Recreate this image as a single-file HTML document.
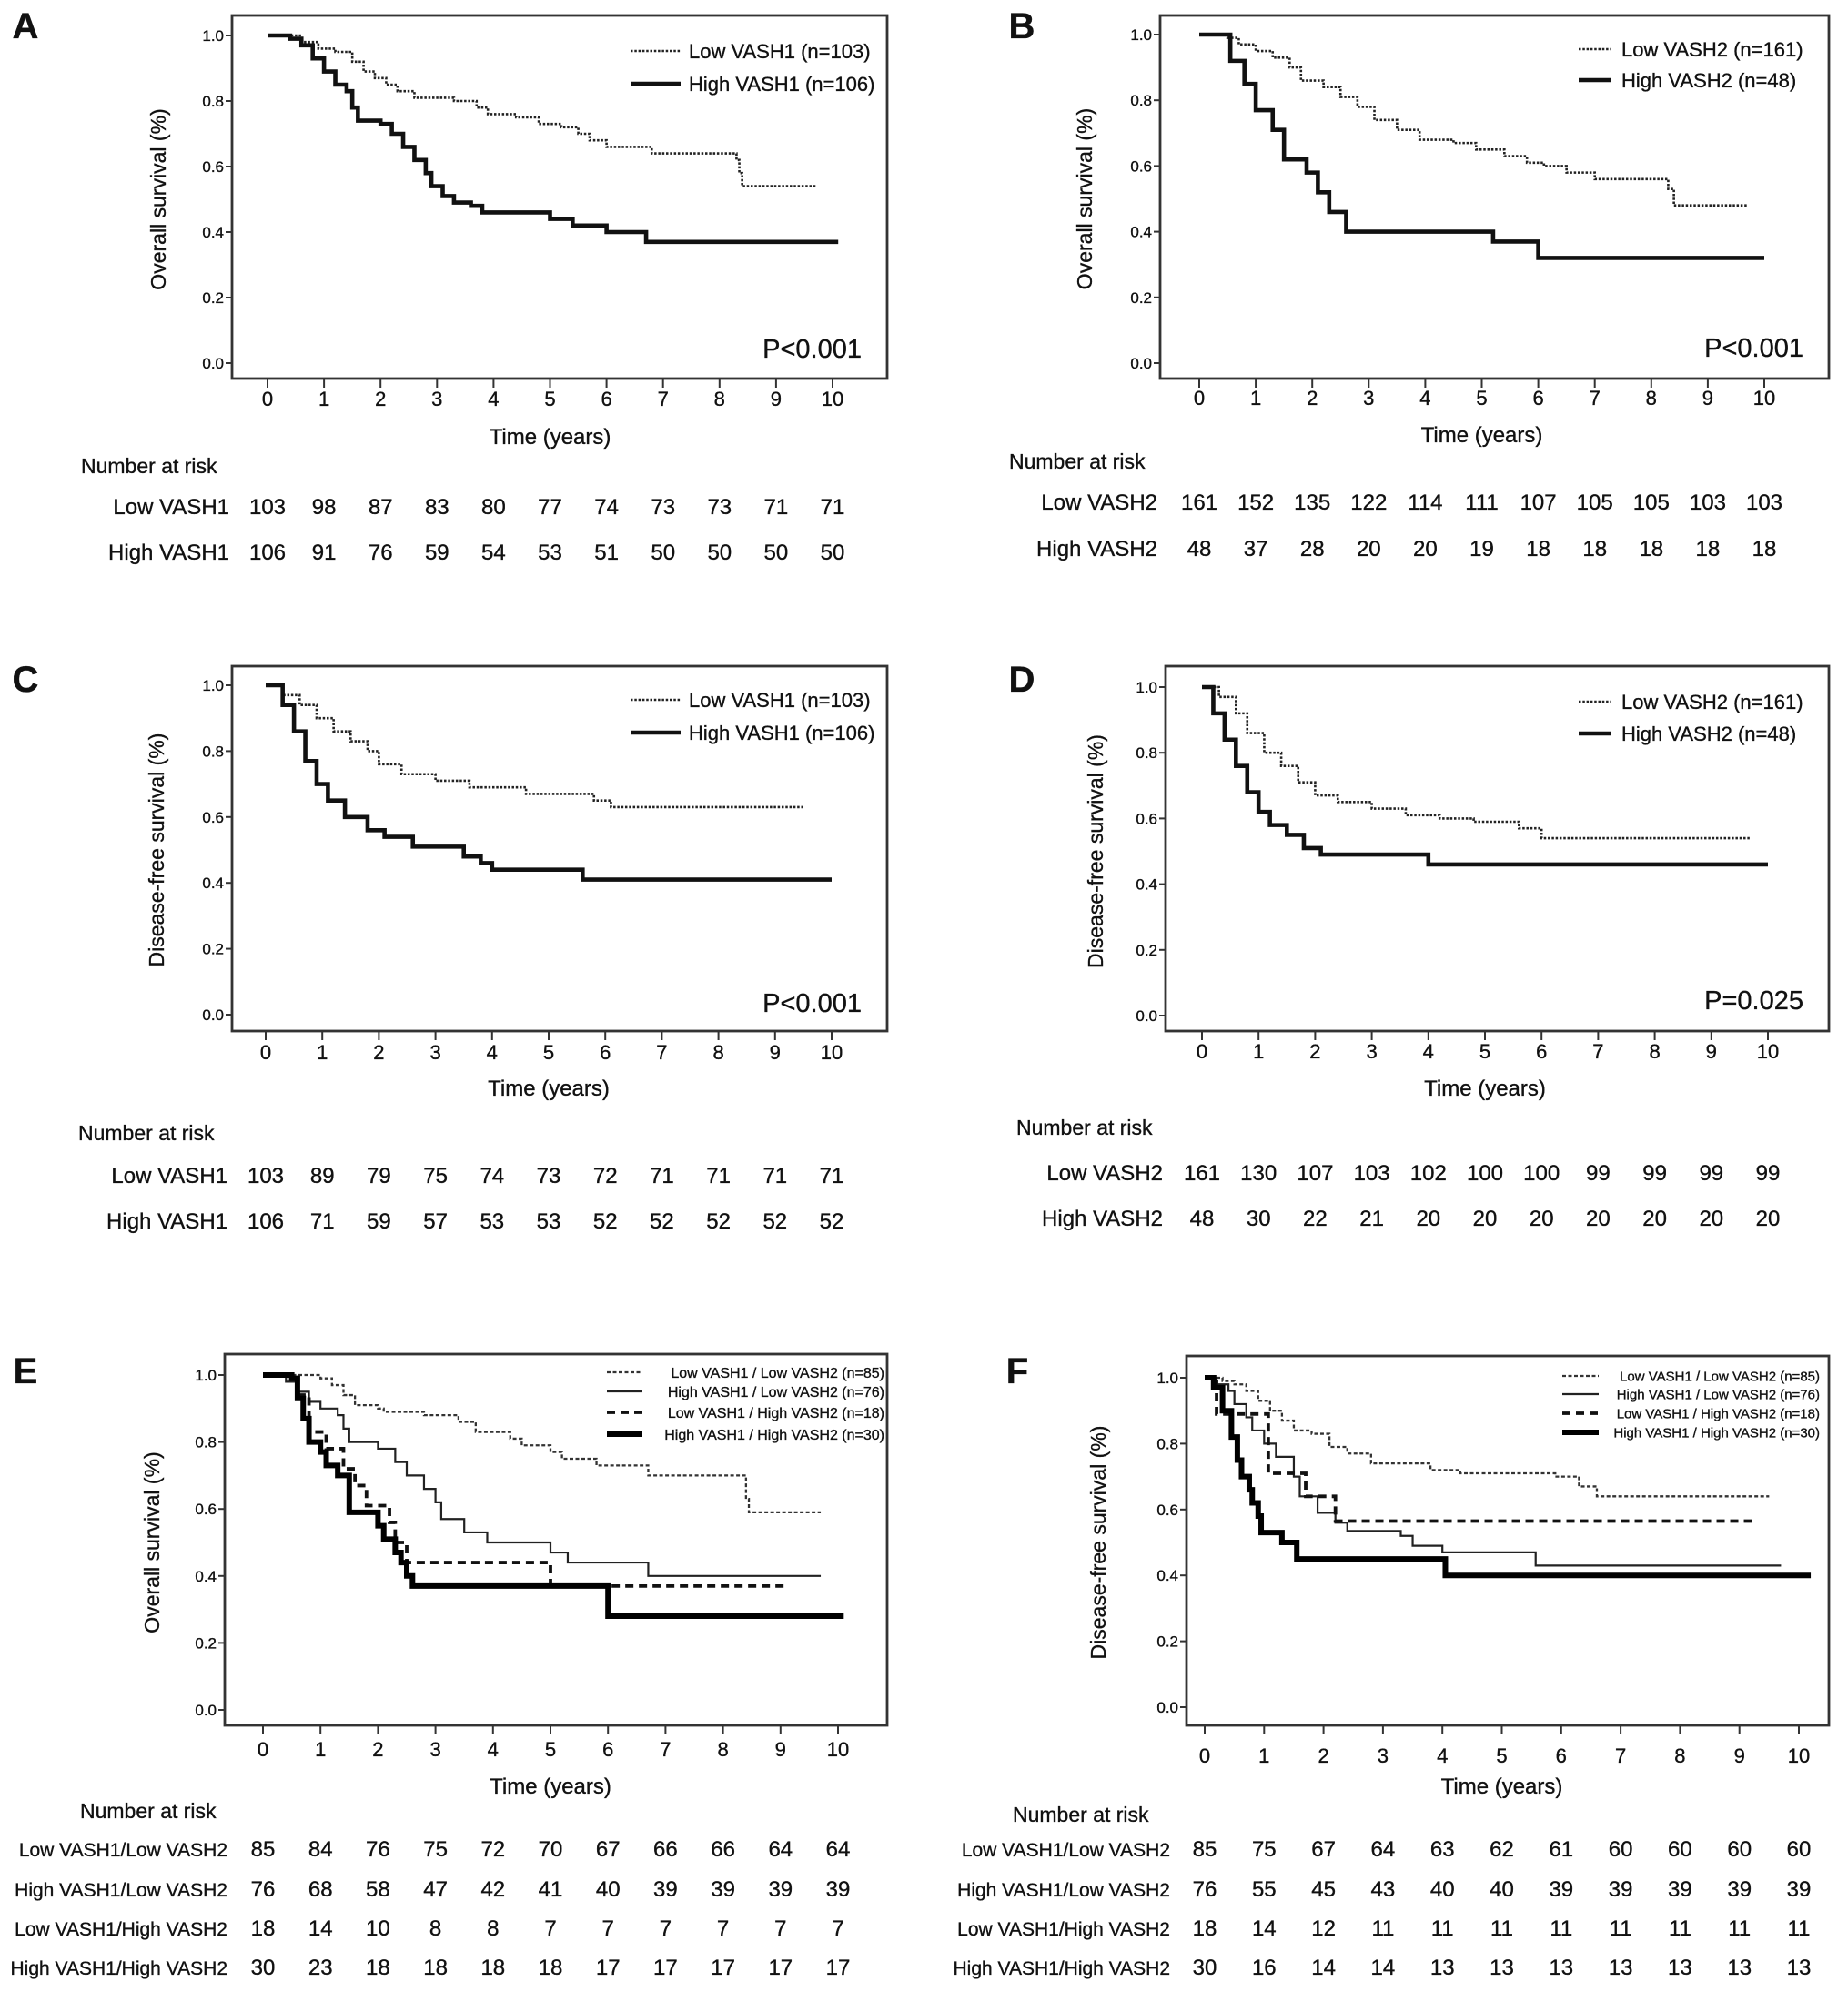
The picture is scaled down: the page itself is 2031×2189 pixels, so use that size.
<!DOCTYPE html>
<html><head><meta charset="utf-8">
<style>
html,body{margin:0;padding:0;background:#fff;}
svg{display:block;font-family:"Liberation Sans",sans-serif;}
svg text{fill:#111;stroke:#111;stroke-width:0.35px;}
</style></head>
<body>
<svg id="fig" width="2031" height="2189" viewBox="0 0 2031 2189" xmlns="http://www.w3.org/2000/svg"></svg>
<script>
// ---- data: step curves as [time(years), survival] ----
const xTicks = [0,1,2,3,4,5,6,7,8,9,10];
const yTicks = [0,0.2,0.4,0.6,0.8,1.0];
const yTickLabels = ["0.0","0.2","0.4","0.6","0.8","1.0"];

const aLow = [[0,1],[0.6,0.98],[0.9,0.96],[1.2,0.95],[1.5,0.92],[1.7,0.89],[1.9,0.87],[2.1,0.85],[2.3,0.83],[2.6,0.81],[3.3,0.80],[3.7,0.78],[3.9,0.76],[4.4,0.75],[4.8,0.73],[5.2,0.72],[5.5,0.70],[5.7,0.68],[6.0,0.66],[6.8,0.64],[8.3,0.62],[8.35,0.58],[8.4,0.54],[9.7,0.54]];
const aHigh = [[0,1],[0.4,0.99],[0.6,0.97],[0.8,0.93],[1.0,0.89],[1.2,0.85],[1.4,0.83],[1.5,0.78],[1.6,0.74],[2.0,0.73],[2.2,0.70],[2.4,0.66],[2.6,0.62],[2.8,0.58],[2.9,0.54],[3.1,0.51],[3.3,0.49],[3.6,0.48],[3.8,0.46],[5.0,0.44],[5.4,0.42],[6.0,0.40],[6.7,0.37],[10.1,0.37]];
const bLow = [[0,1],[0.5,0.99],[0.7,0.97],[1.0,0.95],[1.3,0.93],[1.6,0.90],[1.8,0.86],[2.2,0.84],[2.5,0.81],[2.8,0.78],[3.1,0.74],[3.5,0.71],[3.9,0.68],[4.5,0.67],[4.9,0.65],[5.4,0.63],[5.8,0.61],[6.1,0.60],[6.5,0.58],[7.0,0.56],[8.3,0.53],[8.4,0.48],[9.7,0.48]];
const bHigh = [[0,1],[0.55,0.92],[0.8,0.85],[1.0,0.77],[1.3,0.71],[1.5,0.62],[1.9,0.58],[2.1,0.52],[2.3,0.46],[2.6,0.40],[5.2,0.37],[6.0,0.32],[10,0.32]];
const cLow = [[0,1],[0.3,0.97],[0.6,0.94],[0.9,0.90],[1.2,0.86],[1.5,0.83],[1.8,0.80],[2.0,0.76],[2.4,0.73],[3.0,0.71],[3.6,0.69],[4.6,0.67],[5.8,0.65],[6.1,0.63],[9.5,0.63]];
const cHigh = [[0,1],[0.3,0.94],[0.5,0.86],[0.7,0.77],[0.9,0.70],[1.1,0.65],[1.4,0.60],[1.8,0.56],[2.1,0.54],[2.6,0.51],[3.5,0.48],[3.8,0.46],[4.0,0.44],[5.6,0.41],[10,0.41]];
const dLow = [[0,1],[0.3,0.97],[0.6,0.92],[0.8,0.86],[1.1,0.80],[1.4,0.76],[1.7,0.71],[2.0,0.67],[2.4,0.65],[3.0,0.63],[3.6,0.61],[4.2,0.60],[4.8,0.59],[5.6,0.57],[6.0,0.54],[9.7,0.54]];
const dHigh = [[0,1],[0.2,0.92],[0.4,0.84],[0.6,0.76],[0.8,0.68],[1.0,0.62],[1.2,0.58],[1.5,0.55],[1.8,0.51],[2.1,0.49],[4.0,0.46],[10,0.46]];
const eLL = [[0,1],[1.0,0.99],[1.2,0.97],[1.4,0.94],[1.6,0.91],[2.0,0.90],[2.1,0.89],[2.8,0.88],[3.4,0.86],[3.7,0.83],[4.3,0.81],[4.5,0.79],[5.0,0.77],[5.2,0.75],[5.8,0.73],[6.7,0.70],[8.4,0.63],[8.45,0.59],[9.7,0.59]];
const eHL = [[0,1],[0.4,0.98],[0.6,0.95],[0.8,0.92],[1.0,0.90],[1.3,0.88],[1.4,0.84],[1.5,0.80],[2.0,0.78],[2.3,0.74],[2.5,0.70],[2.8,0.66],[3.0,0.62],[3.1,0.57],[3.5,0.53],[3.9,0.50],[5.0,0.47],[5.3,0.44],[6.7,0.40],[9.7,0.40]];
const eLH = [[0,1],[0.5,0.99],[0.6,0.94],[0.8,0.83],[1.1,0.78],[1.4,0.72],[1.6,0.67],[1.8,0.61],[2.2,0.56],[2.3,0.50],[2.5,0.44],[5.0,0.37],[9.1,0.37]];
const eHH = [[0,1],[0.5,0.99],[0.6,0.93],[0.7,0.87],[0.8,0.80],[1.0,0.77],[1.1,0.73],[1.3,0.70],[1.5,0.59],[2.0,0.55],[2.1,0.51],[2.3,0.47],[2.4,0.44],[2.5,0.40],[2.6,0.37],[6.0,0.28],[10.1,0.28]];
const fLL = [[0,1],[0.3,0.99],[0.5,0.98],[0.7,0.96],[0.9,0.93],[1.1,0.90],[1.3,0.87],[1.5,0.84],[1.8,0.83],[2.1,0.79],[2.4,0.77],[2.8,0.74],[3.8,0.72],[4.3,0.71],[5.9,0.70],[6.3,0.67],[6.6,0.64],[9.5,0.64]];
const fHL = [[0,1],[0.2,0.98],[0.4,0.96],[0.5,0.92],[0.7,0.88],[0.8,0.84],[1.0,0.80],[1.2,0.76],[1.5,0.70],[1.6,0.64],[1.9,0.59],[2.2,0.56],[2.4,0.535],[3.3,0.52],[3.5,0.49],[4.0,0.47],[5.57,0.43],[9.7,0.43]];
const fLH = [[0,1],[0.2,0.89],[1.07,0.71],[1.7,0.64],[2.2,0.565],[9.25,0.565]];
const fHH = [[0,1],[0.15,0.97],[0.3,0.90],[0.45,0.82],[0.55,0.75],[0.62,0.70],[0.75,0.66],[0.8,0.62],[0.9,0.58],[0.95,0.53],[1.3,0.50],[1.55,0.45],[4.05,0.40],[10.2,0.40]];

const riskLabelsAB = ["Low VASH1","High VASH1"];
const riskLabelsB = ["Low VASH2","High VASH2"];
const riskLabelsEF = ["Low VASH1/Low VASH2","High VASH1/Low VASH2","Low VASH1/High VASH2","High VASH1/High VASH2"];
const riskA = [[103,98,87,83,80,77,74,73,73,71,71],[106,91,76,59,54,53,51,50,50,50,50]];
const riskB = [[161,152,135,122,114,111,107,105,105,103,103],[48,37,28,20,20,19,18,18,18,18,18]];
const riskC = [[103,89,79,75,74,73,72,71,71,71,71],[106,71,59,57,53,53,52,52,52,52,52]];
const riskD = [[161,130,107,103,102,100,100,99,99,99,99],[48,30,22,21,20,20,20,20,20,20,20]];
const riskE = [[85,84,76,75,72,70,67,66,66,64,64],[76,68,58,47,42,41,40,39,39,39,39],[18,14,10,8,8,7,7,7,7,7,7],[30,23,18,18,18,18,17,17,17,17,17]];
const riskF = [[85,75,67,64,63,62,61,60,60,60,60],[76,55,45,43,40,40,39,39,39,39,39],[18,14,12,11,11,11,11,11,11,11,11],[30,16,14,14,13,13,13,13,13,13,13]];

const NS = "http://www.w3.org/2000/svg";
const svg = document.getElementById("fig");
function el(tag, attrs, parent, text){
  const e = document.createElementNS(NS, tag);
  for (const k in attrs) e.setAttribute(k, attrs[k]);
  if (text !== undefined) e.textContent = text;
  (parent||svg).appendChild(e);
  return e;
}
const DOT = {stroke:"#222","stroke-width":2.6,"stroke-dasharray":"2.5,1.8"};
const THICK = {stroke:"#111","stroke-width":4.6};
const THIN = {stroke:"#222","stroke-width":2.2};
const DASH = {stroke:"#111","stroke-width":3.8,"stroke-dasharray":"9,6"};
const THICK2 = {stroke:"#000","stroke-width":6};
const DOT2 = {stroke:"#333","stroke-width":2.3,"stroke-dasharray":"4,2.5"};

function panel(p){
  const g = el("g", {});
  
  
  const sx = t => p.x0 + (p.x10 - p.x0) * t / 10;
  const sy = v => p.y0 + (p.y1 - p.y0) * v;
  const lt = el("text", {x:p.letter[0], y:p.letter[1], "font-size":40, "font-weight":"bold", "text-anchor":"middle"}, g, p.id);
  
  
  const b = p.box;
  const box = el("rect", {x:b[0], y:b[1], width:b[2]-b[0], height:b[3]-b[1], fill:"none", stroke:"#333", "stroke-width":2.8}, g);
  
  
  yTicks.forEach((v,i)=>{
    const y = sy(v);
    el("line", {x1:b[0]-7, x2:b[0], y1:y, y2:y, stroke:"#333","stroke-width":2}, g);
    const t = el("text", {x:b[0]-9, y:y+6, "font-size":17, "text-anchor":"end"}, g, yTickLabels[i]);
    
    
  });
  xTicks.forEach(v=>{
    const x = sx(v);
    el("line", {x1:x, x2:x, y1:b[3], y2:b[3]+10, stroke:"#333","stroke-width":2}, g);
    const t = el("text", {x:x, y:p.tickY, "font-size":22, "text-anchor":"middle"}, g, String(v));
    
    
  });
  const yl = el("text", {x:0, y:0, "font-size":23, "text-anchor":"middle", transform:`translate(${p.yTitleX},${(p.y0+p.y1)/2}) rotate(-90)`}, g, p.yTitle);
  
  
  const xl = el("text", {x:(p.x0+p.x10)/2, y:p.timeY, "font-size":24, "text-anchor":"middle"}, g, "Time (years)");
  
  
  p.series.forEach(s=>{
    let d = "";
    s.data.forEach((pt,i)=>{
      if (i===0) d += `M${sx(pt[0])},${sy(pt[1])}`;
      else { d += `H${sx(pt[0])}V${sy(pt[1])}`; }
    });
    const path = el("path", Object.assign({d:d, fill:"none"}, s.style), g);
    
    
  });
  p.legend.forEach((L,i)=>{
    const y = p.legY[i];
    el("line", Object.assign({x1:p.legLine[0], x2:p.legLine[1], y1:y, y2:y}, L.style), g);
    const t = el("text", {x:p.legText, y:y+p.legFs*0.36, "font-size":p.legFs, "text-anchor":p.legAnchor}, g, L.label);
    
    
  });
  if (p.pval){
    const t = el("text", {x:b[2]-28, y:p.pY, "font-size":29, "text-anchor":"end"}, g, p.pval);
    
    
  }
  const nar = el("text", {x:p.narLeft, y:p.narY, "font-size":23}, g, "Number at risk");
  
  
  p.risk.forEach((row,r)=>{
    const y = p.rows[r];
    const lab = el("text", {x:p.labelRight, y:y+8, "font-size":p.rowFs, "text-anchor":"end"}, g, p.riskLabels[r]);
    
    
    row.forEach((n,i)=>{
      const t = el("text", {x:sx(xTicks[i]), y:y+8, "font-size":24, "text-anchor":"middle"}, g, String(n));
      
      
    });
  });
}

panel({id:"A", letter:[28,42], box:[255,17,975,416], x0:294, x10:915, y1:39, y0:399, tickY:446, timeY:488, narY:520, narLeft:89, rows:[557,607], labelRight:252, rowFs:24,
  yTitle:"Overall survival (%)", yTitleX:182, pval:"P<0.001", pY:393,
  series:[{name:"low-vash1",data:aLow,style:DOT},{name:"high-vash1",data:aHigh,style:THICK}],
  legend:[{label:"Low VASH1  (n=103)",style:DOT},{label:"High VASH1 (n=106)",style:THICK}], legY:[56,92], legLine:[693,748], legText:757, legFs:22, legAnchor:"start",
  risk:riskA, riskLabels:riskLabelsAB});
panel({id:"B", letter:[1123,42], box:[1275,17,2010,416], x0:1318, x10:1939, y1:38, y0:399, tickY:445, timeY:486, narY:515, narLeft:1109, rows:[552,603], labelRight:1272, rowFs:24,
  yTitle:"Overall survival (%)", yTitleX:1200, pval:"P<0.001", pY:392,
  series:[{name:"low-vash2",data:bLow,style:DOT},{name:"high-vash2",data:bHigh,style:THICK}],
  legend:[{label:"Low VASH2 (n=161)",style:DOT},{label:"High VASH2  (n=48)",style:THICK}], legY:[54,88], legLine:[1735,1770], legText:1782, legFs:22, legAnchor:"start",
  risk:riskB, riskLabels:riskLabelsB});
panel({id:"C", letter:[28,760], box:[255,732,975,1133], x0:292, x10:914, y1:753, y0:1115, tickY:1164, timeY:1204, narY:1253, narLeft:86, rows:[1292,1342], labelRight:250, rowFs:24,
  yTitle:"Disease-free survival (%)", yTitleX:180, pval:"P<0.001", pY:1112,
  series:[{name:"low-vash1",data:cLow,style:DOT},{name:"high-vash1",data:cHigh,style:THICK}],
  legend:[{label:"Low VASH1  (n=103)",style:DOT},{label:"High VASH1 (n=106)",style:THICK}], legY:[769,805], legLine:[693,748], legText:757, legFs:22, legAnchor:"start",
  risk:riskC, riskLabels:riskLabelsAB});
panel({id:"D", letter:[1123,760], box:[1281,732,2010,1133], x0:1321, x10:1943, y1:755, y0:1116, tickY:1163, timeY:1204, narY:1247, narLeft:1117, rows:[1289,1339], labelRight:1278, rowFs:24,
  yTitle:"Disease-free survival (%)", yTitleX:1212, pval:"P=0.025", pY:1109,
  series:[{name:"low-vash2",data:dLow,style:DOT},{name:"high-vash2",data:dHigh,style:THICK}],
  legend:[{label:"Low VASH2 (n=161)",style:DOT},{label:"High VASH2  (n=48)",style:THICK}], legY:[771,806], legLine:[1735,1770], legText:1782, legFs:22, legAnchor:"start",
  risk:riskD, riskLabels:riskLabelsB});
panel({id:"E", letter:[28,1520], box:[247,1488,975,1896], x0:289, x10:921, y1:1511, y0:1879, tickY:1930, timeY:1971, narY:1998, narLeft:88, rows:[2032,2076,2119,2162], labelRight:250, rowFs:21,
  yTitle:"Overall survival (%)", yTitleX:175, pval:null,
  series:[{name:"low-low",data:eLL,style:DOT2},{name:"high-low",data:eHL,style:THIN},{name:"low-high",data:eLH,style:DASH},{name:"high-high",data:eHH,style:THICK2}],
  legend:[{label:"Low VASH1 / Low VASH2 (n=85)",style:DOT2},{label:"High VASH1 / Low VASH2 (n=76)",style:THIN},{label:"Low VASH1 / High VASH2 (n=18)",style:DASH},{label:"High VASH1 / High VASH2 (n=30)",style:THICK2}],
  legY:[1508,1529,1552,1576], legLine:[667,706], legText:972, legFs:16, legAnchor:"end",
  risk:riskE, riskLabels:riskLabelsEF});
panel({id:"F", letter:[1118,1520], box:[1304,1490,2010,1896], x0:1324, x10:1977, y1:1514, y0:1876, tickY:1937, timeY:1971, narY:2002, narLeft:1113, rows:[2032,2076,2119,2162], labelRight:1286, rowFs:21,
  yTitle:"Disease-free survival (%)", yTitleX:1215, pval:null,
  series:[{name:"low-low",data:fLL,style:DOT2},{name:"high-low",data:fHL,style:THIN},{name:"low-high",data:fLH,style:DASH},{name:"high-high",data:fHH,style:THICK2}],
  legend:[{label:"Low VASH1 / Low VASH2 (n=85)",style:DOT2},{label:"High VASH1 / Low VASH2 (n=76)",style:THIN},{label:"Low VASH1 / High VASH2 (n=18)",style:DASH},{label:"High VASH1 / High VASH2 (n=30)",style:THICK2}],
  legY:[1512,1532,1553,1574], legLine:[1717,1757], legText:2000, legFs:15, legAnchor:"end",
  risk:riskF, riskLabels:riskLabelsEF});
</script>
</body></html>
